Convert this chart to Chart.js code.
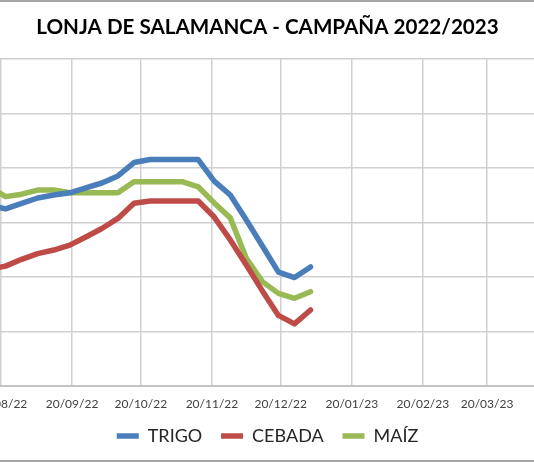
<!DOCTYPE html>
<html>
<head>
<meta charset="utf-8">
<title>Lonja de Salamanca</title>
<script src="https://cdn.jsdelivr.net/npm/chart.js@4.4.0/dist/chart.umd.min.js"></script>
<style>
  html, body { margin: 0; padding: 0; background: #fff; }
  #frame { position: relative; width: 534px; height: 462px; overflow: hidden; }
  /* el grafico original esta recortado por la izquierda: el lienzo sobresale 80px */
  #wrap { position: absolute; left: -80px; top: 0; width: 615px; height: 462px; }
  #edge {
    position: absolute; left: 0; top: 0; width: 534px; height: 462px;
    box-sizing: border-box; border-top: 2px solid #a6a6a6; border-bottom: 2px solid #a6a6a6;
    pointer-events: none;
  }
</style>
</head>
<body>
<div id="frame">
  <div id="wrap"><canvas id="grafico"></canvas></div>
  <div id="edge"></div>
</div>
<script>
// sesiones semanales de la lonja (lunes)
const fechas = ["15/08/22", "22/08/22", "29/08/22", "05/09/22", "12/09/22", "19/09/22", "26/09/22",
  "03/10/22", "10/10/22", "17/10/22", "24/10/22", "31/10/22", "07/11/22", "14/11/22",
  "21/11/22", "28/11/22", "05/12/22", "12/12/22", "19/12/22", "26/12/22", "02/01/23"];

const trigo  = [306.3, 305.0, 307.0, 309.0, 310.1, 310.9, 312.7, 314.5, 317.1, 322.0, 323.1,
  323.1, 323.1, 323.1, 315.2, 310.1, 300.9, 291.4, 281.8, 279.8, 283.7];
const cebada = [282.8, 284.0, 286.5, 288.6, 289.9, 291.7, 294.7, 297.8, 301.5, 307.1, 307.9,
  307.9, 307.9, 307.9, 302.0, 293.6, 284.4, 274.9, 265.9, 262.8, 267.9];
const maiz   = [313.0, 309.5, 310.4, 311.9, 311.9, 310.9, 310.9, 310.9, 310.9, 315.0, 315.0,
  315.0, 315.0, 313.1, 307.2, 301.7, 286.9, 278.3, 274.0, 272.2, 274.6];

// marcas del eje de fechas
const fechasEje = ["20/08/22", "20/09/22", "20/10/22", "20/11/22", "20/12/22",
  "20/01/23", "20/02/23", "20/03/23"];

// dias desde el 20/08/22
function dias(f) {
  const [d, m, a] = f.split("/").map(Number);
  return (Date.UTC(2000 + a, m - 1, d) - Date.UTC(2022, 7, 20)) / 86400000;
}

function serie(valores) {
  return fechas.map((f, i) => ({ x: dias(f), y: valores[i] }));
}

const fuente = "Lato, 'Open Sans', sans-serif";

const linea = {
  borderWidth: 5.5,
  pointRadius: 0,
  pointHoverRadius: 0,
  tension: 0,
  borderCapStyle: "round",
  borderJoinStyle: "round",
  fill: false,
};

new Chart(document.getElementById("grafico"), {
  type: "line",
  data: {
    datasets: [
      { ...linea, label: "TRIGO", data: serie(trigo), borderColor: "#4A7EBB", backgroundColor: "#4A7EBB" },
      { ...linea, label: "CEBADA", data: serie(cebada), borderColor: "#BE4B48", backgroundColor: "#BE4B48" },
      { ...linea, label: "MAÍZ", data: serie(maiz), borderColor: "#98B954", backgroundColor: "#98B954" },
    ],
  },
  options: {
    responsive: true,
    maintainAspectRatio: false,
    animation: false,
    layout: { padding: { left: 80, right: 0, top: 0, bottom: 7 } },
    plugins: {
      tooltip: { enabled: false },
      title: {
        display: true,
        text: "LONJA DE SALAMANCA - CAMPAÑA 2022/2023",
        color: "#000",
        font: { family: fuente, size: 20.6, weight: "bold" },
        padding: { top: 15, bottom: 19.3 },
      },
      legend: {
        position: "bottom",
        labels: {
          usePointStyle: true,
          pointStyle: "line",
          pointStyleWidth: 22,
          color: "#262626",
          padding: 5,
          font: { family: fuente, size: 18 },
          // el padding vale para vertical y horizontal; el hueco entre entradas se da con espacios
          generateLabels: (c) => {
            const items = Chart.defaults.plugins.legend.labels.generateLabels(c);
            items.forEach((it, i) => { if (i < items.length - 1) it.text += "   "; });
            return items;
          },
        },
      },
    },
    scales: {
      x: {
        type: "linear",
        min: -0.436,
        max: 232.9,
        afterBuildTicks: (axis) => {
          axis.ticks = fechasEje.map((f) => ({ value: dias(f) }));
        },
        ticks: {
          autoSkip: false,
          maxRotation: 0,
          padding: 12,
          color: "#404040",
          font: { family: fuente, size: 12, lineHeight: 1 },
          callback: (v, i) => fechasEje[i],
        },
        grid: { color: "#d0d0d0", lineWidth: 1.5, drawTicks: false },
        border: { color: "#c4c4c4", width: 2 },
      },
      y: {
        min: 240,
        max: 360,
        ticks: { stepSize: 20, display: false },
        grid: { color: "#d0d0d0", lineWidth: 1.5, drawTicks: false },
        border: { display: false },
      },
    },
  },
});
</script>
</body>
</html>
